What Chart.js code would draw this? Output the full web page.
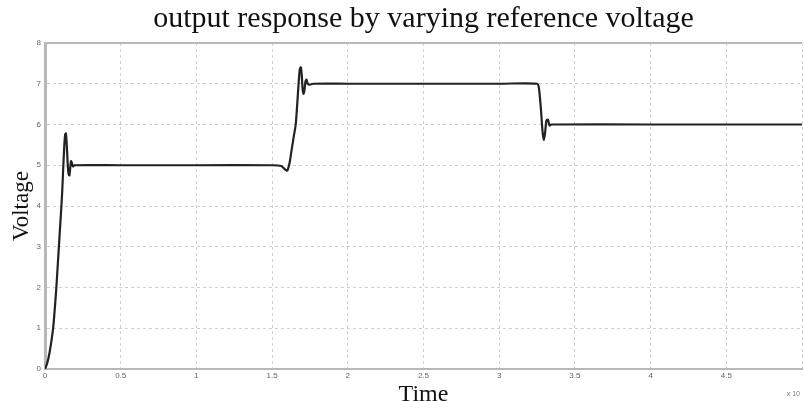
<!DOCTYPE html>
<html>
<head>
<meta charset="utf-8">
<script src="https://cdn.jsdelivr.net/npm/chart.js@4"></script>
<style>
html,body{margin:0;padding:0;background:#fff;}
#wrap{width:804px;height:401px;position:relative;}
</style>
</head>
<body>
<div id="wrap"><canvas id="c" width="804" height="401"></canvas></div>
<script>
const titleText = "output response by varying reference voltage";
const xTitle = "Time";
const yTitle = "Voltage";
const xTickLabels = ["0","0.5","1","1.5","2","2.5","3","3.5","4","4.5",""];
const yTickLabels = ["0","1","2","3","4","5","6","7","8"];

const time = [
  0, 0.015, 0.03, 0.045, 0.055, 0.065, 0.075, 0.085, 0.095, 0.105, 0.113, 0.12, 0.127, 0.133, 0.138,
  0.143, 0.149, 0.155, 0.161, 0.167, 0.172, 0.178, 0.185, 0.195,
  0.5, 1.0, 1.5, 1.56, 1.585, 1.6, 1.615, 1.63, 1.645, 1.656, 1.666, 1.675, 1.683, 1.69, 1.696,
  1.702, 1.708, 1.714, 1.72, 1.727, 1.735, 1.75, 1.77,
  2.0, 2.5, 3.0, 3.25, 3.262, 3.275, 3.287, 3.295, 3.303, 3.312, 3.322, 3.332, 3.345,
  4.0, 4.5, 5.0
];
const voltage = [
  0, 0.15, 0.4, 0.75, 1.05, 1.5, 2.0, 2.6, 3.2, 3.8, 4.3, 4.9, 5.45, 5.75, 5.78,
  5.55, 5.1, 4.8, 4.75, 4.95, 5.1, 5.05, 4.97, 5.0,
  5.0, 5.0, 5.0, 4.98, 4.9, 4.87, 5.05, 5.4, 5.75, 6.0, 6.5, 7.0, 7.35, 7.4, 7.2,
  6.85, 6.75, 6.85, 7.05, 7.1, 7.0, 6.98, 7.0,
  7.0, 7.0, 7.0, 7.0, 6.9, 6.4, 5.8, 5.62, 5.8, 6.1, 6.12, 5.98, 6.0,
  6.0, 6.0, 6.0
];

const points = time.map((t, i) => ({x: t, y: voltage[i]}));

const frame = {
  id: 'frame',
  afterDraw(chart) {
    const {ctx, chartArea: a} = chart;
    ctx.save();
    ctx.strokeStyle = '#b8b8b8';
    ctx.lineWidth = 2;
    ctx.beginPath();
    ctx.moveTo(a.left, a.top);
    ctx.lineTo(a.right, a.top);
    ctx.stroke();
    ctx.fillStyle = '#777';
    ctx.font = '7px "Liberation Sans"';
    ctx.textAlign = 'right';
    ctx.textBaseline = 'middle';
    ctx.fillText('x 10', 800, 394);
    ctx.restore();
  }
};

new Chart(document.getElementById('c'), {
  type: 'line',
  data: {
    datasets: [{
      data: points,
      borderColor: '#222',
      borderWidth: 2.2,
      pointRadius: 0,
      tension: 0.3,
      fill: false
    }]
  },
  options: {
    responsive: false,
    animation: false,
    layout: {padding: 0},
    plugins: {
      legend: {display: false},
      tooltip: {enabled: false},
      title: {
        display: true,
        fullSize: false,
        text: titleText,
        color: '#111',
        font: {family: '"Liberation Serif"', size: 30, weight: 'normal', lineHeight: 1.2},
        padding: {top: 1, bottom: 6}
      }
    },
    scales: {
      x: {
        type: 'linear',
        min: 0, max: 5,
        ticks: {
          stepSize: 0.5,
          color: '#666',
          font: {family: '"Liberation Sans"', size: 8},
          padding: 2,
          maxRotation: 0,
          autoSkip: false,
          callback: (v) => xTickLabels[Math.round(v / 0.5)] ?? ''
        },
        grid: {color: '#d0d0d0', drawTicks: false, tickLength: 0},
        border: {display: true, color: '#b8b8b8', width: 2, dash: [3, 3]},
        title: {
          display: true, text: xTitle, color: '#111',
          font: {family: '"Liberation Serif"', size: 24, lineHeight: 1}, padding: {top: 0, bottom: -6}
        },
        afterFit(s) { s.height = 32; }
      },
      y: {
        min: 0, max: 8,
        ticks: {
          stepSize: 1,
          color: '#666',
          font: {family: '"Liberation Sans"', size: 8},
          padding: 4,
          callback: (v) => yTickLabels[v] ?? ''
        },
        grid: {color: '#d0d0d0', drawTicks: false, tickLength: 0},
        border: {display: true, color: '#b8b8b8', width: 3, dash: [3, 3]},
        title: {
          display: true, text: yTitle, color: '#111',
          font: {family: '"Liberation Serif"', size: 23, lineHeight: 1.2}, padding: {top: 8, bottom: 0}
        },
        afterFit(s) { s.width = 45; }
      }
    }
  },
  plugins: [frame]
});
</script>
</body>
</html>
